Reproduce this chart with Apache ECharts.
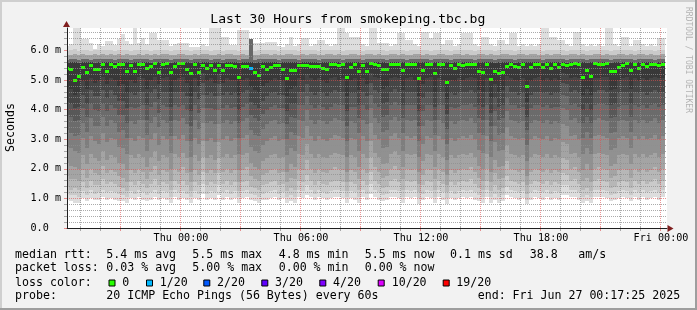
<!DOCTYPE html>
<html>
<head>
<meta charset="utf-8">
<script src="https://cdn.jsdelivr.net/npm/echarts@6.0.0/dist/echarts.min.js"></script>
<style>
html,body{margin:0;padding:0;background:#f2f2f2;}
#chart{width:697px;height:310px;}
</style>
</head>
<body>
<div id="chart"></div>
<script>
// ---------------- data ----------------
const titleText = 'Last 30 Hours from smokeping.tbc.bg';
const unitText = 'Seconds';
const watermarkText = 'RRDTOOL / TOBI OETIKER';

// time axis in hours relative to Thu 00:00; one consolidated column = 720 s
const firstColumnStart = -5.8;
const columnStep = 0.2;
const viewStart = -5.7;
const viewEnd = 24.3;
const xTickHours = [0, 6, 12, 18, 24];
const xTickLabels = ['Thu 00:00', 'Thu 06:00', 'Thu 12:00', 'Thu 18:00', 'Fri 00:00'];
const xGridHours = [-5,-4,-3,-2,-1,0,1,2,3,4,5,6,7,8,9,10,11,12,13,14,15,16,17,18,19,20,21,22,23,24];

const yMax = 6.755;
const yTickValues = [0, 1, 2, 3, 4, 5, 6];
const yTickLabels = ['0.0  ', '1.0 m', '2.0 m', '3.0 m', '4.0 m', '5.0 m', '6.0 m'];

// median rtt per column (ms)
const median = [
5.40,5.36,4.99,5.11,5.42,5.25,5.50,5.36,5.36,5.51,
5.29,5.51,5.45,5.51,5.51,5.28,5.49,5.30,5.53,5.53,
5.39,5.46,5.55,5.26,5.52,5.54,5.25,5.45,5.54,5.54,
5.36,5.21,5.51,5.25,5.50,5.40,5.50,5.33,5.50,5.33,
5.50,5.50,5.45,5.10,5.47,5.47,5.40,5.25,5.15,5.46,
5.36,5.41,5.48,5.48,5.37,5.06,5.31,5.31,5.48,5.48,
5.48,5.47,5.47,5.47,5.40,5.36,5.52,5.52,5.49,5.52,
5.07,5.43,5.51,5.28,5.49,5.28,5.54,5.53,5.49,5.36,
5.36,5.52,5.52,5.52,5.31,5.51,5.51,5.51,5.06,5.31,
5.52,5.52,5.23,5.51,5.51,4.90,5.49,5.40,5.52,5.49,
5.51,5.51,5.51,5.27,5.24,5.51,5.00,5.29,5.22,5.26,
5.44,5.52,5.46,5.41,5.51,4.78,5.41,5.51,5.51,5.41,
5.51,5.40,5.51,5.43,5.53,5.49,5.52,5.55,5.53,5.10,
5.33,5.13,5.55,5.52,5.52,5.55,5.27,5.30,5.43,5.48,
5.55,5.31,5.52,5.39,5.52,5.45,5.52,5.52,5.50,5.52];

// lost pings (of 20) per column; all other columns 0
const lossColumns = [46];
const lossCounts = [1];

// sorted ping ranks per column (ms), smoke edges
const rank1 = [
0.95,0.90,0.85,0.85,1.00,0.90,1.00,0.95,0.95,1.05,
0.95,1.00,0.95,0.90,0.90,0.85,1.00,0.95,1.05,0.95,
0.90,0.95,1.05,0.95,1.00,0.95,0.85,1.05,0.95,1.00,
0.95,0.85,1.00,0.95,1.15,0.95,1.00,0.95,1.10,0.95,
1.05,0.95,1.00,0.85,1.00,1.05,0.95,0.90,0.85,0.95,
0.95,1.00,1.05,0.95,1.00,0.85,0.90,0.85,1.05,1.00,
1.10,1.05,0.95,1.05,1.00,0.95,1.00,1.05,1.05,1.00,
0.85,1.00,0.95,0.85,1.05,0.95,1.15,1.05,0.95,0.90,
0.95,1.05,1.05,1.00,0.85,1.05,1.00,1.05,0.80,0.95,
1.05,1.00,0.85,1.05,0.95,0.80,1.00,0.95,1.00,1.05,
1.00,1.05,0.95,0.90,0.85,1.05,0.85,0.95,0.85,0.90,
1.10,1.05,1.00,0.95,1.00,0.80,0.95,1.05,1.00,0.95,
1.05,0.95,1.00,0.95,1.10,1.10,1.05,1.05,0.95,0.85,
0.90,0.85,1.05,1.05,1.05,1.00,0.90,0.95,1.00,1.05,
1.00,0.90,1.05,0.95,1.05,0.95,1.00,1.05,0.95,1.05];
const rank2 = [
1.15,1.10,1.10,1.05,1.25,1.10,1.30,1.15,1.20,1.30,
1.20,1.25,1.20,1.15,1.10,1.05,1.25,1.15,1.30,1.20,
1.10,1.20,1.30,1.15,1.25,1.20,1.05,1.30,1.20,1.25,
1.15,1.05,1.25,1.15,1.50,1.15,1.25,1.20,1.45,1.20,
1.30,1.15,1.25,1.05,1.25,1.30,1.15,1.10,1.05,1.15,
1.20,1.25,1.30,1.15,1.20,1.05,1.10,1.05,1.30,1.25,
1.45,1.30,1.15,1.30,1.20,1.15,1.25,1.30,1.30,1.25,
1.05,1.25,1.20,1.05,1.30,1.15,1.50,1.30,1.20,1.10,
1.15,1.30,1.30,1.25,1.05,1.30,1.25,1.30,1.00,1.15,
1.30,1.25,1.05,1.30,1.20,1.00,1.25,1.15,1.25,1.30,
1.25,1.30,1.20,1.10,1.05,1.30,1.05,1.15,1.05,1.10,
1.40,1.30,1.25,1.20,1.25,0.95,1.20,1.30,1.25,1.20,
1.30,1.15,1.25,1.20,1.45,1.45,1.30,1.30,1.20,1.05,
1.10,1.05,1.30,1.30,1.30,1.25,1.10,1.15,1.25,1.30,
1.25,1.10,1.30,1.20,1.30,1.20,1.25,1.30,1.20,1.30];
const rank3 = [
1.40,1.30,1.35,1.30,1.55,1.35,1.60,1.45,1.45,1.65,
1.50,1.55,1.50,1.40,1.35,1.25,1.55,1.45,1.60,1.50,
1.35,1.50,1.65,1.45,1.55,1.50,1.30,1.60,1.50,1.60,
1.45,1.25,1.55,1.45,1.90,1.45,1.55,1.50,1.85,1.50,
1.60,1.45,1.55,1.25,1.55,1.60,1.40,1.35,1.30,1.45,
1.50,1.55,1.60,1.45,1.50,1.25,1.35,1.30,1.60,1.55,
1.80,1.60,1.45,1.60,1.50,1.45,1.55,1.60,1.60,1.55,
1.25,1.55,1.50,1.30,1.60,1.45,1.90,1.60,1.50,1.35,
1.40,1.60,1.65,1.55,1.30,1.60,1.55,1.60,1.20,1.45,
1.60,1.55,1.30,1.60,1.50,1.20,1.55,1.45,1.55,1.60,
1.55,1.65,1.50,1.35,1.30,1.60,1.25,1.45,1.30,1.35,
1.75,1.60,1.55,1.50,1.55,1.15,1.50,1.60,1.55,1.50,
1.60,1.45,1.55,1.50,1.85,1.80,1.60,1.65,1.50,1.30,
1.35,1.25,1.60,1.65,1.60,1.55,1.35,1.40,1.55,1.60,
1.55,1.35,1.60,1.50,1.60,1.50,1.55,1.65,1.50,1.60];
const rank4 = [
1.75,1.65,1.65,1.60,1.95,1.70,2.00,1.85,1.80,2.10,
1.85,1.95,1.90,1.75,1.70,1.55,1.95,1.85,2.00,1.90,
1.65,1.90,2.10,1.80,1.95,1.90,1.60,2.00,1.90,2.05,
1.85,1.55,1.95,1.80,2.40,1.85,1.95,1.85,2.35,1.90,
2.00,1.85,1.95,1.55,1.95,2.05,1.75,1.65,1.60,1.80,
1.85,1.95,2.00,1.85,1.90,1.55,1.70,1.65,2.00,1.95,
2.30,2.00,1.85,2.00,1.90,1.85,1.95,2.05,2.00,1.95,
1.55,1.95,1.90,1.65,2.00,1.85,2.40,2.05,1.90,1.70,
1.75,2.00,2.10,1.95,1.65,2.00,1.95,2.00,1.50,1.80,
2.00,1.95,1.65,2.00,1.90,1.45,1.95,1.85,1.95,2.00,
1.95,2.05,1.90,1.70,1.60,2.00,1.55,1.85,1.65,1.70,
2.25,2.00,1.95,1.90,1.95,1.45,1.90,2.00,1.95,1.90,
2.00,1.85,1.95,1.90,2.35,2.30,2.00,2.05,1.90,1.60,
1.70,1.55,2.00,2.05,2.00,1.95,1.70,1.75,1.95,2.00,
1.95,1.70,2.00,1.90,2.00,1.90,1.95,2.05,1.90,2.00];
const rank5 = [
2.20,2.10,2.05,2.00,2.45,2.15,2.50,2.35,2.25,2.60,
2.30,2.45,2.40,2.20,2.15,1.95,2.45,2.35,2.50,2.40,
2.05,2.40,2.60,2.25,2.45,2.40,2.00,2.50,2.40,2.55,
2.35,1.90,2.45,2.25,2.95,2.35,2.45,2.30,2.90,2.40,
2.50,2.35,2.45,1.95,2.45,2.55,2.20,2.05,2.00,2.25,
2.35,2.45,2.50,2.35,2.40,1.90,2.15,2.05,2.50,2.45,
2.85,2.50,2.35,2.50,2.40,2.35,2.45,2.55,2.50,2.45,
1.90,2.45,2.40,2.05,2.50,2.35,2.95,2.55,2.40,2.15,
2.20,2.50,2.60,2.45,2.05,2.50,2.45,2.50,1.90,2.25,
2.50,2.45,2.05,2.50,2.40,1.80,2.45,2.35,2.45,2.50,
2.45,2.55,2.40,2.10,2.00,2.50,1.90,2.30,2.05,2.10,
2.80,2.50,2.45,2.40,2.45,1.75,2.40,2.50,2.45,2.40,
2.50,2.35,2.45,2.40,2.90,2.85,2.50,2.55,2.40,1.95,
2.15,1.95,2.50,2.55,2.50,2.45,2.10,2.15,2.45,2.50,
2.45,2.15,2.50,2.40,2.50,2.40,2.45,2.55,2.40,2.50];
const rank6 = [
2.75,2.70,2.60,2.55,3.05,2.70,3.10,2.95,2.85,3.20,
2.90,3.05,3.00,2.75,2.70,2.50,3.05,2.95,3.10,3.05,
2.60,3.00,3.20,2.80,3.10,3.00,2.55,3.10,3.00,3.15,
2.95,2.40,3.05,2.85,3.55,2.95,3.05,2.90,3.50,3.00,
3.10,2.95,3.05,2.50,3.05,3.15,2.75,2.60,2.55,2.80,
2.95,3.05,3.10,2.95,3.00,2.45,2.70,2.60,3.10,3.05,
3.45,3.10,2.95,3.10,3.00,2.95,3.05,3.15,3.10,3.05,
2.40,3.05,3.00,2.60,3.10,2.95,3.55,3.15,3.00,2.70,
2.75,3.10,3.20,3.05,2.60,3.10,3.05,3.10,2.40,2.85,
3.10,3.05,2.60,3.10,3.00,2.30,3.05,2.95,3.05,3.10,
3.05,3.15,3.00,2.65,2.55,3.10,2.40,2.90,2.60,2.65,
3.40,3.10,3.05,3.00,3.05,2.25,3.00,3.10,3.05,3.00,
3.10,2.95,3.05,3.00,3.50,3.45,3.10,3.15,3.00,2.50,
2.70,2.50,3.10,3.15,3.10,3.05,2.65,2.70,3.05,3.10,
3.05,2.70,3.10,3.00,3.10,3.00,3.05,3.15,3.00,3.10];
const rank7 = [
3.30,3.20,3.10,3.15,3.55,3.25,3.70,3.45,3.45,3.75,
3.45,3.65,3.55,3.25,3.30,3.05,3.60,3.50,3.65,3.65,
3.15,3.55,3.75,3.40,3.65,3.55,3.10,3.65,3.60,3.70,
3.50,2.95,3.65,3.35,4.05,3.55,3.60,3.50,4.00,3.55,
3.65,3.50,3.60,3.05,3.60,3.70,3.30,3.15,3.10,3.35,
3.50,3.60,3.65,3.50,3.55,3.00,3.25,3.15,3.65,3.60,
4.00,3.65,3.50,3.65,3.60,3.50,3.60,3.70,3.65,3.60,
2.95,3.60,3.55,3.20,3.65,3.50,4.05,3.70,3.55,3.25,
3.30,3.65,3.75,3.60,3.20,3.65,3.60,3.65,2.95,3.45,
3.65,3.60,3.15,3.65,3.55,2.85,3.60,3.50,3.60,3.65,
3.60,3.70,3.55,3.20,3.15,3.65,2.95,3.45,3.15,3.20,
3.95,3.65,3.60,3.55,3.60,2.80,3.55,3.65,3.60,3.55,
3.65,3.50,3.60,3.55,4.05,4.00,3.65,3.70,3.55,3.05,
3.25,3.05,3.65,3.70,3.65,3.60,3.20,3.25,3.60,3.65,
3.60,3.25,3.65,3.55,3.65,3.55,3.60,3.70,3.55,3.65];
const rank8 = [
3.80,3.75,3.60,3.65,4.05,3.75,4.20,4.00,3.95,4.20,
3.95,4.15,4.05,3.80,3.80,3.55,4.10,4.05,4.10,4.15,
3.65,4.10,4.25,3.90,4.15,4.10,3.60,4.15,4.10,4.15,
4.00,3.45,4.15,3.90,4.50,4.05,4.05,4.00,4.45,4.05,
4.15,4.05,4.10,3.55,4.10,4.20,3.80,3.70,3.60,3.85,
4.00,4.10,4.15,4.05,4.05,3.50,3.75,3.70,4.15,4.15,
4.45,4.15,4.05,4.15,4.10,4.00,4.10,4.20,4.15,4.15,
3.45,4.10,4.10,3.70,4.15,4.00,4.50,4.20,4.10,3.75,
3.80,4.15,4.25,4.15,3.70,4.15,4.15,4.15,3.45,3.95,
4.15,4.15,3.65,4.15,4.15,3.35,4.10,4.05,4.10,4.15,
4.15,4.20,4.10,3.70,3.65,4.15,3.45,3.95,3.65,3.70,
4.40,4.15,4.15,4.05,4.10,3.30,4.05,4.15,4.15,4.10,
4.15,4.05,4.10,4.10,4.50,4.45,4.15,4.20,4.10,3.55,
3.75,3.55,4.15,4.20,4.20,4.15,3.70,3.75,4.10,4.15,
4.15,3.75,4.15,4.10,4.15,4.05,4.15,4.20,4.10,4.15];
const rank9 = [
4.25,4.20,4.05,4.10,4.50,4.20,4.65,4.45,4.45,4.65,
4.40,4.65,4.50,4.30,4.30,4.05,4.55,4.50,4.60,4.60,
4.15,4.55,4.70,4.35,4.60,4.60,4.10,4.60,4.60,4.60,
4.45,3.95,4.60,4.35,4.90,4.50,4.55,4.45,4.85,4.50,
4.60,4.50,4.55,4.00,4.55,4.65,4.25,4.15,4.05,4.30,
4.45,4.55,4.60,4.50,4.50,3.95,4.20,4.20,4.60,4.60,
4.85,4.60,4.50,4.60,4.55,4.45,4.55,4.65,4.60,4.60,
3.95,4.55,4.55,4.15,4.60,4.45,4.90,4.65,4.55,4.20,
4.25,4.60,4.70,4.60,4.15,4.60,4.60,4.60,3.95,4.40,
4.60,4.60,4.10,4.60,4.60,3.85,4.55,4.50,4.55,4.60,
4.60,4.65,4.55,4.15,4.10,4.60,3.90,4.40,4.10,4.15,
4.80,4.60,4.60,4.50,4.55,3.75,4.50,4.60,4.60,4.55,
4.60,4.50,4.55,4.55,4.90,4.85,4.60,4.65,4.55,4.00,
4.20,4.00,4.60,4.65,4.65,4.60,4.15,4.20,4.55,4.60,
4.60,4.20,4.60,4.55,4.60,4.50,4.60,4.65,4.55,4.60];
const rank10 = [
4.75,4.70,4.50,4.60,4.95,4.70,5.05,4.90,4.95,5.10,
4.85,5.05,5.00,4.80,4.85,4.55,5.00,4.90,5.10,5.05,
4.70,5.00,5.10,4.85,5.05,5.10,4.60,5.00,5.05,5.10,
4.90,4.45,5.05,4.80,5.25,4.95,5.05,4.90,5.20,4.90,
5.05,5.00,5.00,4.50,5.00,5.05,4.75,4.65,4.55,4.80,
4.90,4.95,5.05,5.00,4.95,4.45,4.70,4.75,5.05,5.00,
5.20,5.05,5.00,5.05,4.95,4.90,5.05,5.10,5.00,5.05,
4.45,5.00,5.05,4.65,5.05,4.85,5.25,5.10,5.05,4.70,
4.75,5.05,5.10,5.05,4.65,5.05,5.10,5.00,4.45,4.85,
5.05,5.10,4.60,5.05,5.00,4.35,5.00,4.95,5.05,5.00,
5.05,5.10,5.05,4.65,4.60,5.05,4.40,4.85,4.60,4.65,
5.15,5.05,5.00,4.95,5.05,4.25,4.95,5.05,5.10,4.95,
5.05,4.95,5.05,5.00,5.25,5.20,5.05,5.10,5.05,4.50,
4.70,4.50,5.05,5.05,5.10,5.10,4.65,4.70,5.00,5.05,
5.10,4.70,5.05,4.95,5.05,5.00,5.05,5.10,5.05,5.05];
const rank12 = [
5.58,5.59,5.60,5.58,5.61,5.59,5.60,5.58,5.59,5.61,
5.59,5.60,5.58,5.61,5.60,5.59,5.58,5.60,5.61,5.59,
5.60,5.58,5.61,5.59,5.60,5.61,5.58,5.59,5.60,5.61,
5.59,5.58,5.60,5.59,5.61,5.60,5.58,5.59,5.60,5.58,
5.60,5.61,5.59,5.58,5.60,5.59,5.60,5.58,5.59,5.60,
5.61,5.59,5.60,5.58,5.59,5.60,5.61,5.59,5.58,5.60,
5.59,5.61,5.60,5.58,5.59,5.60,5.61,5.59,5.60,5.58,
5.59,5.60,5.61,5.59,5.58,5.60,5.61,5.59,5.60,5.59,
5.58,5.60,5.61,5.59,5.60,5.58,5.59,5.61,5.60,5.59,
5.60,5.58,5.59,5.61,5.60,5.59,5.58,5.60,5.61,5.59,
5.60,5.59,5.58,5.60,5.61,5.59,5.60,5.58,5.59,5.61,
5.60,5.59,5.58,5.60,5.61,5.59,5.60,5.61,5.59,5.58,
5.60,5.59,5.61,5.60,5.59,5.58,5.60,5.61,5.59,5.60,
5.58,5.59,5.61,5.60,5.59,5.60,5.58,5.59,5.61,5.60,
5.59,5.60,5.58,5.61,5.60,5.59,5.60,5.58,5.59,5.61];
const rank15 = [
5.69,5.70,5.72,5.68,5.71,5.70,5.69,5.71,5.70,5.72,
5.70,5.71,5.69,5.72,5.70,5.71,5.69,5.70,5.72,5.70,
5.71,5.69,5.72,5.70,5.71,5.72,5.69,5.70,5.71,5.72,
5.70,5.69,5.71,5.70,5.72,5.71,5.69,5.70,5.71,5.69,
5.71,5.72,5.70,5.69,5.71,5.70,6.39,5.69,5.70,5.71,
5.72,5.70,5.71,5.69,5.70,5.71,5.72,5.70,5.69,5.71,
5.70,5.72,5.71,5.69,5.70,5.71,5.72,5.70,5.71,5.69,
5.70,5.71,5.72,5.70,5.69,5.71,5.72,5.70,5.71,5.70,
5.69,5.71,5.72,5.70,5.71,5.69,5.70,5.72,5.71,5.70,
5.71,5.69,5.70,5.72,5.71,5.70,5.69,5.71,5.72,5.70,
5.71,5.70,5.69,5.71,5.72,5.70,5.71,5.69,5.70,5.72,
5.71,5.70,5.69,5.71,5.72,5.70,5.71,5.72,5.70,5.69,
5.71,5.70,5.72,5.71,5.70,5.69,5.71,5.72,5.70,5.71,
5.69,5.70,5.72,5.71,5.70,5.71,5.69,5.70,5.72,5.71,
5.70,5.71,5.69,5.72,5.71,5.70,5.71,5.69,5.70,5.72];
const rank18 = [
5.84,5.85,5.87,5.83,5.86,5.85,5.84,5.86,5.85,5.87,
5.85,5.86,5.84,5.87,5.85,5.86,5.84,5.85,5.87,5.85,
5.86,5.84,5.87,5.85,5.86,5.87,5.84,5.85,5.86,5.87,
5.85,5.84,5.86,5.85,5.87,5.86,5.84,5.85,5.86,5.84,
5.86,5.87,5.85,5.84,5.86,5.85,6.39,5.84,5.85,5.86,
5.87,5.85,5.86,5.84,5.85,5.86,5.87,5.85,5.84,5.86,
5.85,5.87,5.86,5.84,5.85,5.86,5.87,5.85,5.86,5.84,
5.85,5.86,5.87,5.85,5.84,5.86,5.87,5.85,5.86,5.85,
5.84,5.86,5.87,5.85,5.86,5.84,5.85,5.87,5.86,5.85,
5.86,5.84,5.85,5.87,5.86,5.85,5.84,5.86,5.87,5.85,
5.86,5.85,5.84,5.86,5.87,5.85,5.86,5.84,5.85,5.87,
5.86,5.85,5.84,5.86,5.87,5.85,5.86,5.87,5.85,5.84,
5.86,5.85,5.87,5.86,5.85,5.84,5.86,5.87,5.85,5.86,
5.84,5.85,5.87,5.86,5.85,5.86,5.84,5.85,5.87,5.86,
5.85,5.86,5.84,5.87,5.86,5.85,5.86,5.84,5.85,5.87];
const rank19 = [
5.99,6.01,6.03,5.98,6.02,6.00,5.99,6.01,6.00,6.02,
6.00,6.01,5.99,6.02,6.00,6.01,5.99,6.00,6.02,6.00,
6.01,5.99,6.02,6.00,6.01,6.02,5.99,6.00,6.01,6.02,
6.00,5.99,6.01,6.00,6.02,6.01,5.99,6.00,6.01,5.99,
6.01,6.02,6.00,5.99,6.01,6.00,6.39,5.99,6.00,6.01,
6.02,6.00,6.01,5.99,6.00,6.01,6.02,6.00,5.99,6.01,
6.00,6.02,6.01,5.99,6.00,6.01,6.02,6.00,6.01,5.99,
6.00,6.01,6.02,6.00,5.99,6.01,6.02,6.00,6.01,6.00,
5.99,6.01,6.02,6.00,6.01,5.99,6.00,6.02,6.01,6.00,
6.01,5.99,6.00,6.02,6.01,6.00,5.99,6.01,6.02,6.00,
6.01,6.00,5.99,6.01,6.02,6.00,6.01,5.99,6.00,6.02,
6.01,6.00,5.99,6.01,6.02,6.00,6.01,6.02,6.00,5.99,
6.01,6.00,6.02,6.01,6.00,5.99,6.01,6.02,6.00,6.01,
5.99,6.00,6.02,6.01,6.00,6.01,5.99,6.00,6.02,6.01,
6.00,6.01,5.99,6.02,6.01,6.00,6.01,5.99,6.00,6.02];
const rank20 = [
6.15,6.20,6.75,6.75,6.37,6.37,6.24,6.05,6.20,6.15,
6.30,6.30,6.18,6.40,6.55,6.30,6.20,6.75,6.25,6.41,
6.20,6.58,6.58,6.35,6.35,6.35,6.15,6.20,6.24,6.24,
6.24,6.10,6.12,6.12,6.20,6.15,6.75,6.75,6.75,6.46,
6.46,6.18,6.18,6.69,6.69,6.69,6.39,6.24,6.24,6.24,
6.29,6.29,6.29,6.15,6.10,6.20,6.46,6.15,6.20,6.41,
6.41,6.15,6.20,6.35,6.35,6.20,6.15,6.20,6.75,6.75,
6.58,6.46,6.46,6.46,6.20,6.15,6.75,6.75,6.24,6.24,
6.24,6.15,6.20,6.58,6.58,6.35,6.35,6.20,6.15,6.63,
6.63,6.41,6.58,6.58,6.20,6.35,6.35,6.15,6.20,6.58,
6.58,6.58,6.20,6.15,6.46,6.46,6.20,6.15,6.35,6.35,
6.20,6.58,6.58,6.15,6.20,6.15,6.20,6.15,6.20,6.75,
6.75,6.46,6.46,6.35,6.35,6.20,6.15,6.63,6.63,6.20,
6.15,6.20,6.15,6.20,6.15,6.75,6.75,6.20,6.15,6.46,
6.46,6.15,6.35,6.35,6.20,6.15,6.20,6.15,6.41,6.41];

// legend
const medianRttStats = ['5.4 ms avg', '5.5 ms max', '4.8 ms min', '5.5 ms now', '0.1 ms sd', '38.8', 'am/s'];
const packetLossStats = ['0.03 % avg', '5.00 % max', '0.00 % min', '0.00 % now'];
const lossThresholds = [0, 1, 2, 3, 4, 10, 19];
const lossLabels = ['0', '1/20', '2/20', '3/20', '4/20', '10/20', '19/20'];
const lossColors = ['#26ff00', '#00b8ff', '#0059ff', '#5e00ff', '#7e00ff', '#dd00ff', '#ff0000'];
const probeText = '20 ICMP Echo Pings (56 Bytes) every 60s';
const endText = 'end: Fri Jun 27 00:17:25 2025';

// ---------------- styles ----------------
const MONO = '"DejaVu Sans Mono", monospace';
const smokeEdges = [rank1, rank2, rank3, rank4, rank5, rank6, rank7, rank8, rank9, rank10, rank12, rank15, rank18, rank19, rank20];
const smokeBandColors = ['#dddddd','#cacaca','#b7b7b7','#a4a4a4','#919191','#7e7e7e','#6b6b6b','#585858','#454545',
                         '#383838','#686868','#a2a2a2','#cacaca','#dddddd'];
const minorGridColor = 'rgba(143,143,143,0.75)';
const majorGridColor = 'rgba(222,79,79,0.6)';
const axisColor = '#1f1f1f';
const arrowColor = '#801f1f';

function lossColorFor(n) {
  let c = lossColors[0];
  for (let i = 0; i < lossThresholds.length; i++) if (n >= lossThresholds[i]) c = lossColors[i];
  return c;
}

const smokeData = median.map((m, i) => {
  const t0 = firstColumnStart + i * columnStep;
  return [t0, t0 + columnStep].concat(smokeEdges.map(r => r[i]));
});
const medianData = median.map((m, i) => {
  const t0 = firstColumnStart + i * columnStep;
  const li = lossColumns.indexOf(i);
  return [t0, t0 + columnStep, m, li >= 0 ? lossCounts[li] : 0];
});

const chart = echarts.init(document.getElementById('chart'), null, {renderer: 'canvas'});

const g = [];
function txt(text, x, y, size, extra) {
  return {type: 'text', x: x, y: y, silent: true,
    style: Object.assign({text: text, font: size + 'px ' + MONO, fill: '#000',
      textAlign: 'left', textVerticalAlign: 'middle', align: 'left', verticalAlign: 'middle'}, extra || {})};
}
// frame
g.push({type: 'rect', shape: {x: 0, y: 0, width: 697, height: 2}, style: {fill: '#cfcfcf'}, silent: true});
g.push({type: 'rect', shape: {x: 0, y: 0, width: 2, height: 310}, style: {fill: '#cfcfcf'}, silent: true});
g.push({type: 'rect', shape: {x: 0, y: 308, width: 697, height: 2}, style: {fill: '#9e9e9e'}, silent: true});
g.push({type: 'rect', shape: {x: 695, y: 0, width: 2, height: 310}, style: {fill: '#9e9e9e'}, silent: true});
// arrows
g.push({type: 'polygon', shape: {points: [[667.5, 225], [673.5, 228.5], [667.5, 232]]}, style: {fill: arrowColor}, silent: true, z: 20});
g.push({type: 'polygon', shape: {points: [[63, 27], [66.5, 21], [70, 27]]}, style: {fill: arrowColor}, silent: true, z: 20});
// title / unit / watermark
g.push(txt(titleText, 347.8, 19.5, 13.05, {textAlign: 'center', align: 'center'}));
const unit = txt(unitText, 10.5, 127.5, 11.6, {textAlign: 'center', align: 'center'});
unit.rotation = Math.PI / 2;
g.push(unit);
const wm = txt(watermarkText, 688.5, 60, 8, {textAlign: 'center', align: 'center', fill: '#b4b4b4'});
wm.rotation = -Math.PI / 2;
g.push(wm);
// legend rows
const rowY = [254.5, 268.3, 282.5, 296.3];
const statX = [106.3, 192.3, 278.7, 364.7, 450, 529.7, 578.3];
const LEG = 11.6;
g.push(txt('median rtt:', 15, rowY[0], LEG));
medianRttStats.forEach((s, i) => g.push(txt(s, statX[i], rowY[0], LEG)));
g.push(txt('packet loss:', 15, rowY[1], LEG));
packetLossStats.forEach((s, i) => g.push(txt(s, statX[i], rowY[1], LEG)));
g.push(txt('loss color:', 15, rowY[2], LEG));
const boxX = [109, 146.5, 203.8, 261.8, 319.8, 378.2, 443.2];
const labX = [122.3, 159.7, 217, 275, 333, 391.7, 456.3];
lossLabels.forEach((l, i) => {
  g.push({type: 'rect', shape: {x: boxX[i], y: 280, width: 6, height: 6},
    style: {fill: lossColors[i], stroke: '#000', lineWidth: 1}, silent: true});
  g.push(txt(l, labX[i], rowY[2], LEG));
});
g.push(txt('probe:', 15, rowY[3], LEG));
g.push(txt(probeText, 106.3, rowY[3], LEG));
g.push(txt(endText, 477.7, rowY[3], LEG));

const option = {
  animation: false,
  backgroundColor: '#f2f2f2',
  grid: {left: 67, top: 28, width: 600, height: 200, show: true, backgroundColor: '#ffffff',
         borderWidth: 0, containLabel: false, outerBoundsMode: 'none'},
  xAxis: {
    type: 'value', min: viewStart, max: viewEnd, z: 6,
    axisLine: {show: true, onZero: false, lineStyle: {color: axisColor, width: 1}},
    axisTick: {show: false},
    splitLine: {show: false},
    axisLabel: {customValues: xTickHours, margin: 5, color: '#000', fontFamily: MONO, fontSize: 10.15,
      formatter: v => { const k = xTickHours.indexOf(v); return k >= 0 ? xTickLabels[k] : ''; }}
  },
  yAxis: {
    type: 'value', min: 0, max: yMax, interval: 1, z: 6,
    axisLine: {show: true, onZero: false, lineStyle: {color: axisColor, width: 1}},
    axisTick: {show: true, length: 3, customValues: yTickValues, lineStyle: {color: majorGridColor}},
    minorTick: {show: true, splitNumber: 5, length: 3, lineStyle: {color: minorGridColor}},
    splitLine: {show: true, showMinLine: false, showMaxLine: false, lineStyle: {color: majorGridColor, type: [1, 1]}},
    minorSplitLine: {show: true, lineStyle: {color: minorGridColor, type: [1, 1]}},
    axisLabel: {customValues: yTickValues, margin: 6, color: '#000', fontFamily: MONO, fontSize: 10.15,
      formatter: v => { const k = yTickValues.indexOf(v); return k >= 0 ? yTickLabels[k] : ''; }}
  },
  graphic: g,
  series: [
    {
      type: 'custom', name: 'smoke', z: 2, clip: true, silent: true,
      data: smokeData,
      renderItem: (params, api) => {
        const xa = Math.round(api.coord([api.value(0), 0])[0]);
        const xb = Math.round(api.coord([api.value(1), 0])[0]);
        const children = [];
        for (let b = 0; b < smokeBandColors.length; b++) {
          const ylo = Math.round(api.coord([0, api.value(2 + b)])[1]);
          const yhi = Math.round(api.coord([0, api.value(3 + b)])[1]);
          if (ylo - yhi < 1) continue;
          children.push({type: 'rect', shape: {x: xa, y: yhi, width: xb - xa, height: ylo - yhi},
                         style: {fill: smokeBandColors[b]}});
        }
        return {type: 'group', children: children};
      }
    },
    {
      type: 'custom', name: 'median', z: 3, clip: true, silent: true,
      data: medianData,
      renderItem: (params, api) => {
        const xa = Math.round(api.coord([api.value(0), 0])[0]);
        const xb = Math.round(api.coord([api.value(1), 0])[0]);
        const yc = api.coord([0, api.value(2)])[1];
        const y0 = Math.round(yc - 1.5);
        return {type: 'rect', shape: {x: xa, y: y0, width: xb - xa, height: 3},
                style: {fill: lossColorFor(api.value(3))}};
      }
    },
    {
      type: 'custom', name: 'xgrid', z: 5, clip: false, silent: true,
      data: xGridHours.map(h => [h, 0]),
      renderItem: (params, api) => {
        const h = api.value(0);
        const x = Math.round(api.coord([h, 0])[0]) - 0.5;
        const cs = params.coordSys;
        const color = (h % 3 === 0) ? majorGridColor : minorGridColor;
        return {type: 'group', children: [
          {type: 'line', shape: {x1: x, y1: cs.y, x2: x, y2: cs.y + cs.height},
           style: {stroke: color, lineWidth: 1, lineDash: [1, 1]}},
          {type: 'line', shape: {x1: x, y1: cs.y + cs.height - 1, x2: x, y2: cs.y + cs.height + 3},
           style: {stroke: color, lineWidth: 1}}
        ]};
      }
    }
  ]
};
chart.setOption(option);
</script>
</body>
</html>
